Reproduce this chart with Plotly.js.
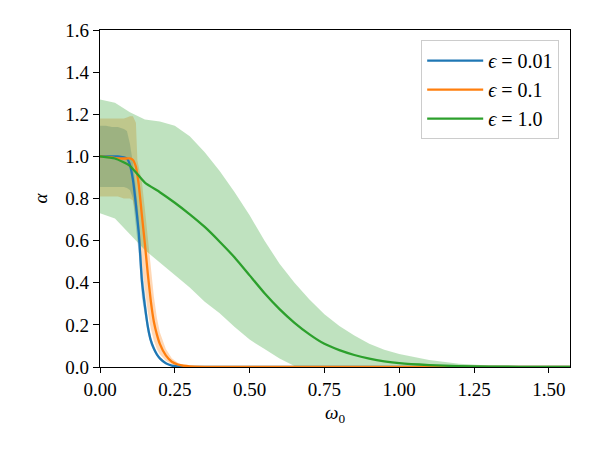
<!DOCTYPE html>
<html>
<head>
<meta charset="utf-8">
<script src="https://cdn.plot.ly/plotly-3.0.1.min.js"></script>
<style>html,body{margin:0;padding:0;background:#fff;}#chart{width:600px;height:450px;}</style>
</head>
<body>
<div id="chart"></div>
<script>
// x grid for the eps = 0.01 and eps = 0.1 curves
const xSharp = [0, 0.02, 0.04, 0.06, 0.08, 0.09, 0.10, 0.11, 0.12, 0.125, 0.13, 0.14, 0.15, 0.16, 0.17, 0.18, 0.19, 0.20, 0.22, 0.24, 0.26, 0.28, 0.30, 0.35, 0.40, 0.60, 1.00, 1.5708];

const blueMean  = [1.0, 1.0, 1.0, 1.0, 0.995, 0.99, 0.96, 0.89, 0.77, 0.70, 0.63, 0.41, 0.29, 0.19, 0.125, 0.088, 0.06, 0.041, 0.018, 0.007, 0.003, 0.001, 0, 0, 0, 0, 0, 0];
const blueUpper = [1.145, 1.145, 1.14, 1.14, 1.13, 1.12, 1.06, 0.97, 0.85, 0.78, 0.71, 0.49, 0.34, 0.22, 0.145, 0.098, 0.067, 0.046, 0.021, 0.009, 0.004, 0.001, 0, 0, 0, 0, 0, 0];
const blueLower = [0.855, 0.855, 0.855, 0.855, 0.855, 0.85, 0.84, 0.80, 0.67, 0.60, 0.53, 0.33, 0.24, 0.16, 0.105, 0.075, 0.052, 0.035, 0.014, 0.005, 0.002, 0, 0, 0, 0, 0, 0, 0];

const orangeMean  = [1.0, 0.998, 0.995, 0.99, 0.99, 0.99, 0.99, 0.983, 0.95, 0.91, 0.86, 0.72, 0.585, 0.44, 0.31, 0.215, 0.155, 0.11, 0.055, 0.025, 0.012, 0.006, 0.003, 0.001, 0, 0, 0, 0];
const orangeUpper = [1.18, 1.18, 1.18, 1.18, 1.18, 1.185, 1.19, 1.19, 1.16, 0.98, 0.95, 0.88, 0.75, 0.61, 0.47, 0.335, 0.235, 0.165, 0.085, 0.042, 0.02, 0.01, 0.005, 0.002, 0, 0, 0, 0];
const orangeLower = [0.81, 0.81, 0.81, 0.81, 0.80, 0.80, 0.80, 0.79, 0.72, 0.67, 0.62, 0.50, 0.37, 0.26, 0.18, 0.125, 0.085, 0.06, 0.03, 0.013, 0.006, 0.003, 0.001, 0, 0, 0, 0, 0];

// x grid for the eps = 1.0 curve
const xSmooth = [0, 0.05, 0.10, 0.15, 0.20, 0.25, 0.30, 0.35, 0.40, 0.45, 0.50, 0.55, 0.60, 0.65, 0.70, 0.75, 0.80, 0.85, 0.90, 0.95, 1.00, 1.10, 1.20, 1.30, 1.40, 1.50, 1.5708];
const greenMean  = [1.0, 0.99, 0.955, 0.875, 0.83, 0.78, 0.725, 0.665, 0.595, 0.52, 0.435, 0.35, 0.275, 0.21, 0.155, 0.11, 0.08, 0.057, 0.04, 0.027, 0.018, 0.009, 0.004, 0.002, 0.001, 0.0005, 0.0003];
const greenUpper = [1.27, 1.255, 1.21, 1.175, 1.165, 1.145, 1.095, 1.02, 0.93, 0.83, 0.72, 0.60, 0.49, 0.40, 0.32, 0.25, 0.195, 0.15, 0.11, 0.082, 0.062, 0.033, 0.015, 0.007, 0.003, 0.0015, 0.001];
const greenLower = [0.73, 0.705, 0.63, 0.555, 0.495, 0.437, 0.378, 0.31, 0.255, 0.19, 0.13, 0.085, 0.04, 0.005, 0, 0, 0, 0, 0, 0, 0, 0, 0, 0, 0, 0, 0];

const seriesNames = ['<i>ϵ</i> = 0.01', '<i>ϵ</i> = 0.1', '<i>ϵ</i> = 1.0'];
const colors = ['#1f77b4', '#ff7f0e', '#2ca02c'];
const fills = ['rgba(31,119,180,0.3)', 'rgba(255,127,14,0.3)', 'rgba(44,160,44,0.3)'];

function band(xs, up, lo, fc) {
  return {
    x: xs.concat(xs.slice().reverse()),
    y: up.concat(lo.slice().reverse()),
    type: 'scatter', mode: 'lines', fill: 'toself', fillcolor: fc,
    line: {width: 0, color: 'rgba(0,0,0,0)'}, showlegend: false, hoverinfo: 'skip'
  };
}
function line(xs, ys, i) {
  return {x: xs, y: ys, type: 'scatter', mode: 'lines', name: seriesNames[i],
    legendgroup: 'g' + i,
    line: {color: colors[i], width: 2.3, shape: 'spline', smoothing: 0.5}};
}

const data = [
  band(xSharp, blueUpper, blueLower, fills[0]),
  band(xSharp, orangeUpper, orangeLower, fills[1]),
  band(xSmooth, greenUpper, greenLower, fills[2]),
  line(xSharp, blueMean, 0),
  line(xSharp, orangeMean, 1),
  line(xSmooth, greenMean, 2)
];

const fontFam = 'Liberation Serif, DejaVu Serif, serif';
const layout = {
  width: 600, height: 450,
  margin: {l: 100, r: 30, t: 30, b: 83},
  paper_bgcolor: '#fff', plot_bgcolor: '#fff',
  font: {family: fontFam, size: 19, color: '#000'},
  showlegend: true,
  legend: {x: 0.977, y: 0.97, xanchor: 'right', yanchor: 'top',
    bgcolor: 'rgba(255,255,255,0.8)', bordercolor: '#cccccc', borderwidth: 1,
    font: {family: fontFam, size: 20}, tracegroupgap: 0, itemwidth: 56},
  xaxis: {range: [0, Math.PI / 2], tickmode: 'linear', tick0: 0, dtick: 0.25, tickformat: '.2f',
    showgrid: false, zeroline: false, showline: true, mirror: true, linecolor: '#000', linewidth: 1.2,
    ticks: 'outside', ticklen: 5, tickwidth: 1, tickcolor: '#000',
    tickfont: {family: fontFam, size: 19},
    title: {text: '<i>ω</i><sub>0</sub>', font: {family: fontFam, size: 19}, standoff: 6}},
  yaxis: {range: [0, 1.6], tickmode: 'linear', tick0: 0, dtick: 0.2, tickformat: '.1f',
    showgrid: false, zeroline: false, showline: true, mirror: true, linecolor: '#000', linewidth: 1.2,
    ticks: 'outside', ticklen: 6, tickwidth: 1, tickcolor: '#000',
    tickfont: {family: fontFam, size: 19},
    title: {text: '<i>α</i>', font: {family: fontFam, size: 19}, standoff: 12}}
};

Plotly.newPlot('chart', data, layout, {staticPlot: true, displayModeBar: false});
</script>
</body>
</html>
